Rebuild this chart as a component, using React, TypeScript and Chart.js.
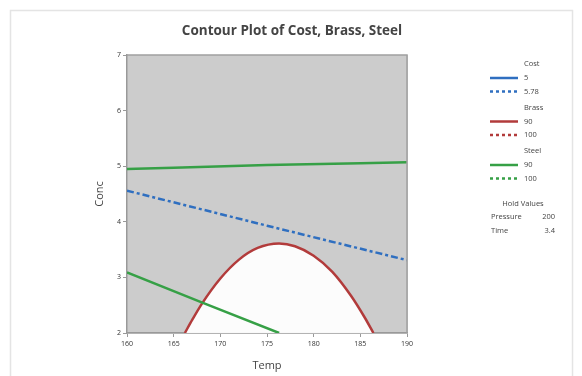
import React, { useEffect, useRef } from "react";
import { Chart, registerables } from "chart.js";

Chart.register(...registerables);

const chartTitle = "Contour Plot of Cost, Brass, Steel";
const xTitle = "Temp";
const yTitle = "Conc";
const xTicks = [160, 165, 170, 175, 180, 185, 190];
const yTicks = [2, 3, 4, 5, 6, 7];

const brassTemp = [166.2, 167, 168, 170, 172, 174, 176.3, 178, 180, 182, 184, 185.5, 186.4];
const brassConc = [2.0, 2.24, 2.52, 2.98, 3.32, 3.53, 3.61, 3.56, 3.39, 3.1, 2.67, 2.27, 2.0];

const costTemp = [160, 175, 190];
const costConc = [4.56, 3.93, 3.31];

const steelTopTemp = [160, 175, 190];
const steelTopConc = [4.95, 5.02, 5.07];

const steelLowTemp = [160, 168, 176.3];
const steelLowConc = [3.09, 2.55, 2.0];

const legendGroups = [
  { title: "Cost", color: "#2f6fc0", items: ["5", "5.78"] },
  { title: "Brass", color: "#b23b3b", items: ["90", "100"] },
  { title: "Steel", color: "#36a046", items: ["90", "100"] },
];
const holdTitle = "Hold Values";
const holdNames = ["Pressure", "Time"];
const holdVals = ["200", "3.4"];

const BLUE = "#2f6fc0";
const RED = "#b23b3b";
const GREEN = "#36a046";
const GRAY = "#cccccc";

function pts(xs: number[], ys: number[]) {
  return xs.map((x, i) => ({ x, y: ys[i] }));
}

const decorPlugin = {
  id: "decor",
  beforeDraw(chart: any) {
    const { ctx, chartArea } = chart;
    ctx.save();
    ctx.fillStyle = "#ffffff";
    ctx.fillRect(0, 0, chart.width, chart.height);
    ctx.strokeStyle = "#e4e4e4";
    ctx.lineWidth = 1.5;
    ctx.strokeRect(10.5, 10.5, 562, 380);
    ctx.fillStyle = GRAY;
    ctx.fillRect(chartArea.left, chartArea.top, chartArea.right - chartArea.left, chartArea.bottom - chartArea.top);
    ctx.restore();
  },
  afterDraw(chart: any) {
    const { ctx, chartArea } = chart;
    ctx.save();
    ctx.strokeStyle = "#a0a0a0";
    ctx.lineWidth = 1.5;
    ctx.beginPath();
    ctx.moveTo(chartArea.left, chartArea.top);
    ctx.lineTo(chartArea.right, chartArea.top);
    ctx.lineTo(chartArea.right, chartArea.bottom);
    ctx.stroke();
    ctx.fillStyle = "#444444";
    ctx.font = "bold 13.5px 'Open Sans'";
    ctx.textAlign = "center";
    ctx.textBaseline = "middle";
    ctx.fillText(chartTitle, 292, 31);
    ctx.font = "7.5px 'Open Sans'";
    ctx.textAlign = "left";
    let y = 64;
    legendGroups.forEach((g) => {
      ctx.fillStyle = "#444444";
      ctx.fillText(g.title, 524, y);
      y += 14;
      g.items.forEach((it, i) => {
        ctx.strokeStyle = g.color;
        ctx.lineWidth = 2.5;
        ctx.setLineDash(i === 0 ? [] : [3, 3]);
        ctx.beginPath();
        ctx.moveTo(490, y);
        ctx.lineTo(518, y);
        ctx.stroke();
        ctx.setLineDash([]);
        ctx.fillStyle = "#444444";
        ctx.fillText(it, 524, y);
        y += 13.5;
      });
      y += 2.5;
    });
    ctx.fillStyle = "#444444";
    ctx.textAlign = "center";
    ctx.fillText(holdTitle, 523, 204);
    holdNames.forEach((n, i) => {
      ctx.textAlign = "left";
      ctx.fillText(n, 491, 217 + i * 14);
      ctx.textAlign = "right";
      ctx.fillText(holdVals[i], 555, 217 + i * 14);
    });
    ctx.restore();
  },
};

export default function App() {
  const ref = useRef<HTMLCanvasElement | null>(null);
  useEffect(() => {
    if (!ref.current) return;
    const lineBase = { showLine: true, pointRadius: 0, borderWidth: 2.5, fill: false, order: 0 };
    const chart = new Chart(ref.current, {
      type: "scatter",
      data: {
        datasets: [
          {
            ...lineBase,
            label: "Brass 90",
            data: pts(brassTemp, brassConc),
            borderColor: RED,
            backgroundColor: "rgba(255,255,255,0.94)",
            fill: "start",
            cubicInterpolationMode: "monotone",
            order: 10,
          },
          {
            ...lineBase,
            label: "Steel 90 upper",
            data: pts(steelTopTemp, steelTopConc),
            borderColor: GREEN,
            cubicInterpolationMode: "monotone",
          },
          {
            ...lineBase,
            label: "Steel 90 lower",
            data: pts(steelLowTemp, steelLowConc),
            borderColor: GREEN,
          },
          {
            ...lineBase,
            label: "Cost 5.78",
            data: pts(costTemp, costConc),
            borderColor: BLUE,
            borderDash: [7, 3, 3, 3],
          },
        ],
      },
      options: {
        responsive: false,
        animation: false,
        layout: { padding: { top: 55, right: 175, left: 93, bottom: 0 } },
        plugins: { legend: { display: false }, title: { display: false }, tooltip: { enabled: false } },
        scales: {
          x: {
            type: "linear",
            min: 160,
            max: 190,
            afterFit: (s: any) => {
              s.height = 43;
            },
            afterBuildTicks: (s: any) => {
              s.ticks = xTicks.map((v) => ({ value: v }));
            },
            grid: { color: GRAY, tickColor: "#999999", tickLength: 4, lineWidth: 1 },
            border: { color: "#999999", width: 1.5 },
            ticks: { color: "#333333", font: { family: "'Open Sans'", size: 7 }, padding: 3, maxRotation: 0 },
            title: { display: true, text: xTitle, color: "#444444", font: { family: "'Open Sans'", size: 11 }, padding: { top: 4 } },
          },
          y: {
            type: "linear",
            min: 2,
            max: 7,
            afterFit: (s: any) => {
              s.width = 34;
            },
            afterBuildTicks: (s: any) => {
              s.ticks = yTicks.map((v) => ({ value: v }));
            },
            grid: { color: GRAY, tickColor: "#999999", tickLength: 4, lineWidth: 1 },
            border: { color: "#999999", width: 1.5 },
            ticks: { color: "#333333", font: { family: "'Open Sans'", size: 7 }, padding: 2 },
            title: { display: true, text: yTitle, color: "#444444", font: { family: "'Open Sans'", size: 11 }, padding: { top: 0, bottom: 0 } },
          },
        },
      },
      plugins: [decorPlugin],
    } as any);
    return () => chart.destroy();
  }, []);
  return (
    <div style={{ position: "fixed", left: 0, top: 0, width: 582, height: 376 }}>
      <canvas ref={ref} width={582} height={376} style={{ display: "block" }} />
    </div>
  );
}
